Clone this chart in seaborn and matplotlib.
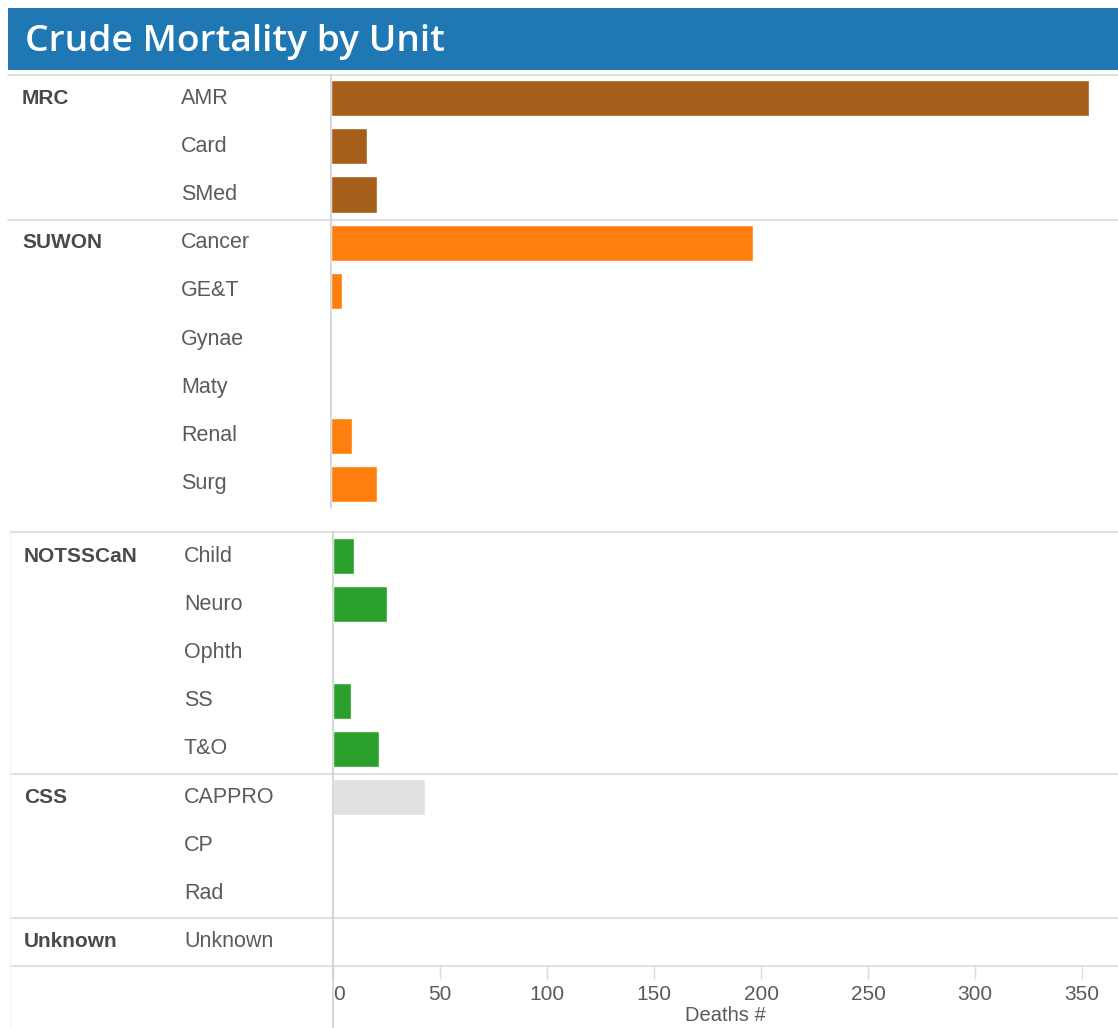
import matplotlib
matplotlib.use("Agg")
import matplotlib.pyplot as plt
import seaborn as sns
import pandas as pd
from matplotlib.lines import Line2D
from matplotlib.patches import Rectangle
from matplotlib.transforms import blended_transform_factory

# ---- data ----
top_groups = ["MRC", "MRC", "MRC", "SUWON", "SUWON", "SUWON", "SUWON", "SUWON", "SUWON"]
top_units = ["AMR", "Card", "SMed", "Cancer", "GE&T", "Gynae", "Maty", "Renal", "Surg"]
top_deaths = [354, 17, 21.5, 197, 5, 0.5, 0.5, 10, 21.5]

bot_groups = ["NOTSSCaN", "NOTSSCaN", "NOTSSCaN", "NOTSSCaN", "NOTSSCaN", "CSS", "CSS", "CSS", "Unknown"]
bot_units = ["Child", "Neuro", "Ophth", "SS", "T&O", "CAPPRO", "CP", "Rad", "Unknown"]
bot_deaths = [10, 25, 0.6, 8.5, 21.5, 43, 0, 0, 0]

x_ticks = [0, 50, 100, 150, 200, 250, 300, 350]
palette = {"MRC": "#A65F1B", "SUWON": "#FF7F0E", "NOTSSCaN": "#2CA02C",
           "CSS": "#E0E0E0", "Unknown": "#BBBBBB"}

W, H = 1118, 1028
sns.set_theme(style="white")
plt.rcParams['font.family'] = ['Liberation Sans', 'DejaVu Sans']

fig = plt.figure(figsize=(W / 100, H / 100), dpi=100)

def fx(px):
    return px / W

def fy(py):
    return 1 - py / H

def hline(y, x0=8, x1=W, color="#DADADA", lw=1.2):
    fig.add_artist(Line2D([fx(x0), fx(x1)], [fy(y), fy(y)], color=color, lw=lw,
                          transform=fig.transFigure))

def vline(x, y0, y1, color="#CFCFCF", lw=1.2):
    fig.add_artist(Line2D([fx(x), fx(x)], [fy(y0), fy(y1)], color=color, lw=lw,
                          transform=fig.transFigure))

# title bar
fig.add_artist(Rectangle((fx(8), fy(70)), fx(W - 8), 62 / H, transform=fig.transFigure,
                         facecolor="#1F77B4", edgecolor="none"))
fig.text(fx(25), fy(42), "Crude Mortality by Unit", color="white", fontsize=26.8,
         fontweight="semibold", family=["Open Sans", "DejaVu Sans"], va="center", ha="left")

def panel(x_left, y_top, y_bot, groups, units, deaths, xmax):
    ax = fig.add_axes([fx(x_left), fy(y_bot), fx(W - x_left), (y_bot - y_top) / H])
    df = pd.DataFrame({"group": groups, "unit": units, "deaths": deaths})
    sns.barplot(data=df, x="deaths", y="unit", hue="group", palette=palette,
                dodge=False, width=0.75, legend=False, orient="h", ax=ax,
                saturation=1, order=units)
    ax.set_xlim(0, xmax)
    ax.set_ylim(len(units) - 0.5, -0.5)
    ax.set_yticks([])
    ax.set_ylabel("")
    ax.set_xlabel("")
    for s in ax.spines.values():
        s.set_visible(False)
    tr = blended_transform_factory(fig.transFigure, ax.transData)
    return ax, tr

GROUP_FS = 15
UNIT_FS = 15.5

# ---- top panel ----
ax1, tr1 = panel(331, 74, 508, top_groups, top_units, top_deaths, 367.7)
ax1.set_xticks([])
prev = None
for i, (g, u) in enumerate(zip(top_groups, top_units)):
    if g != prev:
        ax1.text(fx(22), i, g, transform=tr1, fontsize=GROUP_FS, fontweight="bold",
                 color="#4A4A4A", va="center", ha="left")
        prev = g
    ax1.text(fx(181), i, u, transform=tr1, fontsize=UNIT_FS, color="#5A5A5A",
             va="center", ha="left")
hline(75)
hline(220)
vline(331, 75, 508)

# ---- bottom panel ----
ax2, tr2 = panel(333, 532, 966, bot_groups, bot_units, bot_deaths, 366.8)
prev = None
for i, (g, u) in enumerate(zip(bot_groups, bot_units)):
    if g != prev:
        ax2.text(fx(24), i, g, transform=tr2, fontsize=GROUP_FS, fontweight="bold",
                 color="#4A4A4A", va="center", ha="left")
        prev = g
    ax2.text(fx(184), i, u, transform=tr2, fontsize=UNIT_FS, color="#5A5A5A",
             va="center", ha="left")
ax2.set_xticks(x_ticks)
ax2.set_xticklabels([str(t) for t in x_ticks])
ax2.tick_params(axis="x", bottom=True, length=9, width=1, color="#DADADA",
                labelsize=15, labelcolor="#5A5A5A", pad=5)
ax2.get_xticklabels()[0].set_ha("left")
ax2.set_xlabel("Deaths #", fontsize=14.5, color="#5A5A5A", labelpad=1)
hline(532, 10)
hline(774, 10)
hline(918, 10)
hline(966, 10)
vline(333, 532, H)
vline(10, 532, H, color="#F3F3F3", lw=1)

fig.savefig("out.png", dpi=100, facecolor="white")
